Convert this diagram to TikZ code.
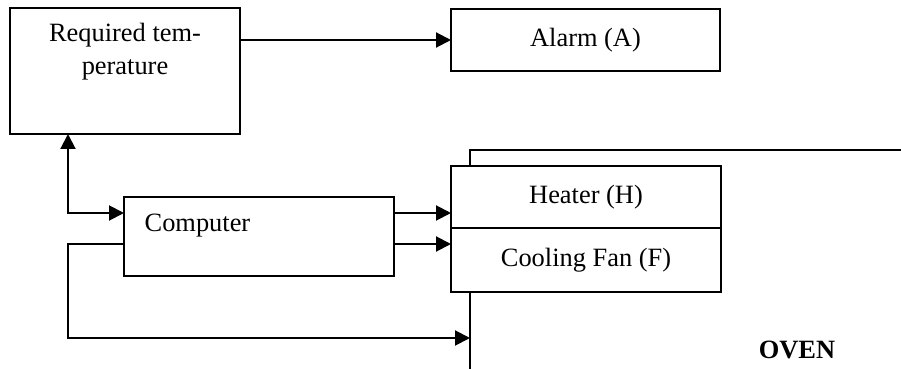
\documentclass[tikz,border=0pt]{standalone}
\usepackage{fontspec}
\setmainfont{Liberation Serif}
\usetikzlibrary{positioning,arrows.meta}

\begin{document}
\begin{tikzpicture}[x=0.5pt,y=-0.5pt,line width=1pt,
    every node/.style={font=\fontsize{13.2}{16.5}\selectfont},
    blk/.style={draw,fill=white,outer sep=0pt},
    arr/.style={-{Triangle[length=7.5pt,width=7.5pt]}},
    both/.style={{Triangle[length=7.5pt,width=7.5pt]}-{Triangle[length=7.5pt,width=7.5pt]}}]
  \useasboundingbox (0,0) rectangle (901,369);
  % oven outline
  \coordinate (ovtop) at (470,150);
  \draw (470,369) -- (ovtop) -- (901,150);
  \node[blk,minimum width=115pt,minimum height=63pt] (req) at (125,71) {};
  \node[align=center] (reqtxt) at (125,52) {Required tem-\\perature};
  \node[blk,minimum width=134.5pt,minimum height=31pt] (alarm) at (585.5,40) {Alarm (A)};
  \node[blk,minimum width=135pt,minimum height=39.5pt] (comp) at (259,236.5) {};
  \node[right=6.5pt of comp.west,yshift=5.5pt] (comptxt) {Computer};
  \node[blk,minimum width=135pt,minimum height=31pt] (heater) at (586,197) {Heater (H)};
  \node[blk,minimum width=135pt,minimum height=32pt,below=0pt of heater] (fan) {Cooling Fan (F)};
  \node[font=\fontsize{13.2}{16.5}\selectfont\bfseries] (oventxt) at (797,350) {OVEN};
  \coordinate (c1) at (68,213);
  \coordinate (c2) at (68,244);
  \coordinate (c3) at (68,338);
  \draw[arr] (req.east |- alarm.west) -- (alarm.west);
  \draw[both] (req.south -| c1) -- (c1) -- (comp.west |- c1);
  \draw[arr] (comp.east |- c1) -- (heater.west |- c1);
  \draw[arr] (comp.east |- c2) -- (fan.west |- c2);
  \draw[arr] (comp.west |- c2) -- (c2) -- (c3) -- (ovtop |- c3);
\end{tikzpicture}
\end{document}
